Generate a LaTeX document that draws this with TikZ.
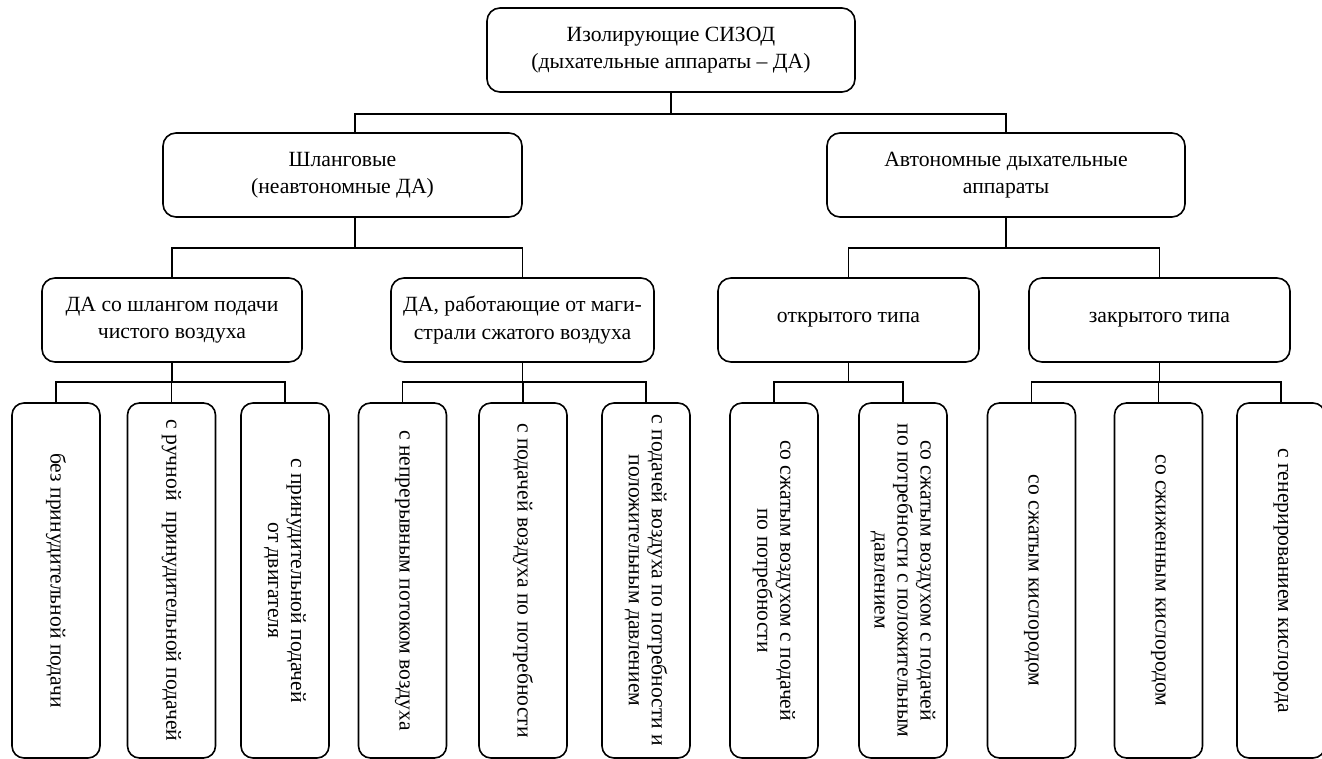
\documentclass[tikz,border=0pt]{standalone}
\usepackage{fontspec}
\setmainfont{Liberation Serif}

\begin{document}
\begin{tikzpicture}[x=1pt, y=-1pt, line width=1.6pt,
    hbox/.style={draw, rounded corners=13pt, align=center, minimum height=84pt, inner sep=0pt,
      font=\fontsize{21.7}{27.5}\selectfont},
    vbox/.style={draw, rounded corners=12pt, align=center, rotate=-90, minimum width=355pt, minimum height=88pt, inner sep=0pt,
      font=\fontsize{21.6}{23}\selectfont}]
	\useasboundingbox (0,0) rectangle (1322,758);

	% upper levels
	\node[hbox, minimum width=368pt] (izol) at (671,50) {Изолирующие СИЗОД\\(дыхательные аппараты – ДА)};
	\node[hbox, minimum width=359pt] (shl) at (342.5,175) {Шланговые\\(неавтономные ДА)};
	\node[hbox, minimum width=358pt] (avt) at (1006,175) {Автономные дыхательные\\аппараты};

	\node[hbox, minimum width=260pt] (chist) at (172,320) {ДА со шлангом подачи\\чистого воздуха};
	\node[hbox, minimum width=263pt] (magis) at (522.5,320) {ДА, работающие от маги-\\страли сжатого воздуха};
	\node[hbox, minimum width=261pt] (otkr) at (848.5,320) {открытого типа};
	\node[hbox, minimum width=261pt] (zakr) at (1159.5,320) {закрытого типа};

	% lower level
	\node[vbox] (bez) at (56,580.5) {без принудительной подачи};
	\node[vbox] (ruch) at (171.5,580.5) {с ручной~ принудительной подачей};
	\node[vbox] (dvig) at (285,580.5) {с принудительной подачей\\от двигателя};

	\node[vbox] (nepr) at (402.5,580.5) {с непрерывным потоком воздуха};
	\node[vbox] (potr) at (523,580.5) {с подачей воздуха по потребности};
	\node[vbox] (davl) at (646,580.5) {с подачей воздуха по потребности и\\положительным давлением};

	\node[vbox] (szh) at (774,580.5) {со сжатым воздухом с подачей\\по потребности};
	\node[vbox] (szhd) at (903,580.5) {со сжатым воздухом с подачей\\по потребности с положительным\\давлением};

	\node[vbox] (kisl) at (1031.5,580.5) {со сжатым кислородом};
	\node[vbox] (szhk) at (1158.5,580.5) {со сжиженным кислородом};
	\node[vbox] (gen) at (1281,580.5) {с генерированием кислорода};

	% connectors
	\draw (izol.south) -- ++(0,21) -| ([xshift=12.5pt]shl.north);
	\draw (izol.south) -- ++(0,21) -| (avt.north);

	\draw ([xshift=12.5pt]shl.south) -- ++(0,30) -| (chist.north);
	\draw ([xshift=12.5pt]shl.south) -- ++(0,30) -| (magis.north);
	\draw (avt.south) -- ++(0,30) -| (otkr.north);
	\draw (avt.south) -- ++(0,30) -| (zakr.north);

	\draw (chist.south) -- ++(0,19) -| (bez.west);
	\draw (chist.south) -- ++(0,19) -| (ruch.west);
	\draw (chist.south) -- ++(0,19) -| (dvig.west);
	\draw (magis.south) -- ++(0,19) -| (nepr.west);
	\draw (magis.south) -- ++(0,19) -| (potr.west);
	\draw (magis.south) -- ++(0,19) -| (davl.west);
	\draw (otkr.south) -- ++(0,19) -| (szh.west);
	\draw (otkr.south) -- ++(0,19) -| (szhd.west);
	\draw (zakr.south) -- ++(0,19) -| (kisl.west);
	\draw (zakr.south) -- ++(0,19) -| (szhk.west);
	\draw (zakr.south) -- ++(0,19) -| (gen.west);

\end{tikzpicture}
\end{document}
